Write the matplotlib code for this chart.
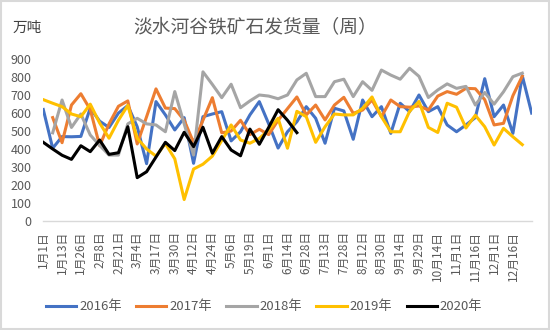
import numpy as np
import matplotlib
matplotlib.use('Agg')
import matplotlib.pyplot as plt
from matplotlib.patches import Rectangle

plt.rcParams['font.family'] = ['Noto Sans CJK SC', 'DejaVu Sans']

nan = np.nan

# ---- data ----
tick_labels = ['1月1日', '1月13日', '1月26日', '2月8日', '2月21日', '3月4日', '3月17日',
               '3月30日', '4月12日', '4月24日', '5月6日', '5月19日', '6月1日', '6月14日',
               '6月28日', '7月13日', '7月28日', '8月12日', '8月30日', '9月14日', '9月29日',
               '10月14日', '11月1日', '11月16日', '12月1日', '12月16日']
n_weeks = 53
label_step = 2

series_names = ['2016年', '2017年', '2018年', '2019年', '2020年']

s2016 = [620, 404, 469, 468, 470, 628, 555, 520, 600, 642, 524, 318, 664, 590, 506, 575,
         320, 580, 595, 608, 445, 496, 590, 664, 540, 405, 496, 552, 636, 571, 432, 627,
         612, 454, 673, 580, 636, 487, 655, 608, 701, 608, 636, 534, 496, 534, 575, 792,
         580, 645, 487, 808, 600]
s2017 = [nan, 575, 435, 645, 708, 620, 418, 540, 638, 668, 428, 580, 735, 628, 625, 560,
         436, 560, 686, 490, 500, 560, 480, 510, 480, 560, 625, 690, 590, 645, 562, 645,
         688, 599, 617, 673, 580, 673, 636, 633, 640, 617, 695, 720, 705, 738, 736, 675,
         534, 543, 697, 806, nan]
s2018 = [nan, 490, 673, 520, 595, 478, 420, 366, 366, 540, 571, 540, 534, 496, 720, 540,
         366, 830, 760, 686, 761, 630, 668, 701, 695, 680, 701, 785, 822, 692, 692, 775,
         789, 692, 775, 727, 840, 812, 789, 850, 805, 687, 729, 763, 738, 749, 645, 715,
         650, 719, 803, 823, nan]
s2019 = [675, 655, 636, 595, 580, 650, 545, 460, 560, 643, 460, 400, 360, 430, 345, 118,
         288, 315, 360, 447, 534, 450, 432, 459, 506, 571, 404, 610, 580, 437, 524, 595,
         590, 590, 627, 690, 580, 496, 496, 610, 665, 520, 492, 655, 633, 517, 588, 524,
         422, 515, 468, 424, nan]
s2020 = [437, 400, 365, 342, 418, 385, 450, 370, 379, 524, 240, 273, 355, 437, 391, 493,
         413, 521, 376, 469, 394, 362, 511, 426, 520, 619, 560, 491]

colors = ['#4472C4', '#ED7D31', '#A5A5A5', '#FFC000', '#000000']

# ---- figure ----
fig = plt.figure(figsize=(5.5, 3.3), dpi=100)
fig.patch.set_facecolor('white')
fig.patches.append(Rectangle((0.002, 0.003), 0.996, 0.994, transform=fig.transFigure,
                             fill=False, edgecolor='#d9d9d9', lw=1.5))

ax = fig.add_axes([0.0787, 0.3312, 0.888, 0.4891])
x = np.arange(n_weeks)
for name, vals, c in zip(series_names, [s2016, s2017, s2018, s2019, s2020], colors):
    v = np.full(n_weeks, np.nan)
    v[:len(vals)] = vals
    ax.plot(x, v, color=c, lw=2.2, label=name, solid_joinstyle='round')

ax.set_xlim(0, n_weeks - 1)
ax.set_ylim(0, 900)
ax.set_yticks(np.arange(0, 901, 100))
ax.set_xticks(x[::label_step][:len(tick_labels)])
ax.set_xticklabels(tick_labels, rotation=90, va='top', ha='center')
ax.tick_params(axis='x', length=0, pad=7.5, labelsize=8.5, labelcolor='#595959')
ax.tick_params(axis='y', length=0, pad=8.4, labelsize=9, labelcolor='#595959')
for side in ['left', 'right', 'top']:
    ax.spines[side].set_visible(False)
ax.spines['bottom'].set_color('#d9d9d9')
ax.spines['bottom'].set_linewidth(1)
ax.set_facecolor('none')

fig.text(0.4636, 0.915, '淡水河谷铁矿石发货量（周）', ha='center', va='center',
         fontsize=13.5, color='#595959')
fig.text(0.022, 0.915, '万吨', ha='left', va='center', fontsize=10.5, color='#404040')

leg = fig.legend(ncol=5, loc='center', bbox_to_anchor=(0.48, 0.0697), frameon=False,
                 fontsize=9.5, handlelength=2.3, handletextpad=0.2, columnspacing=1.1)
for t in leg.get_texts():
    t.set_color('#595959')

fig.savefig('out.png', dpi=100, facecolor='white')
